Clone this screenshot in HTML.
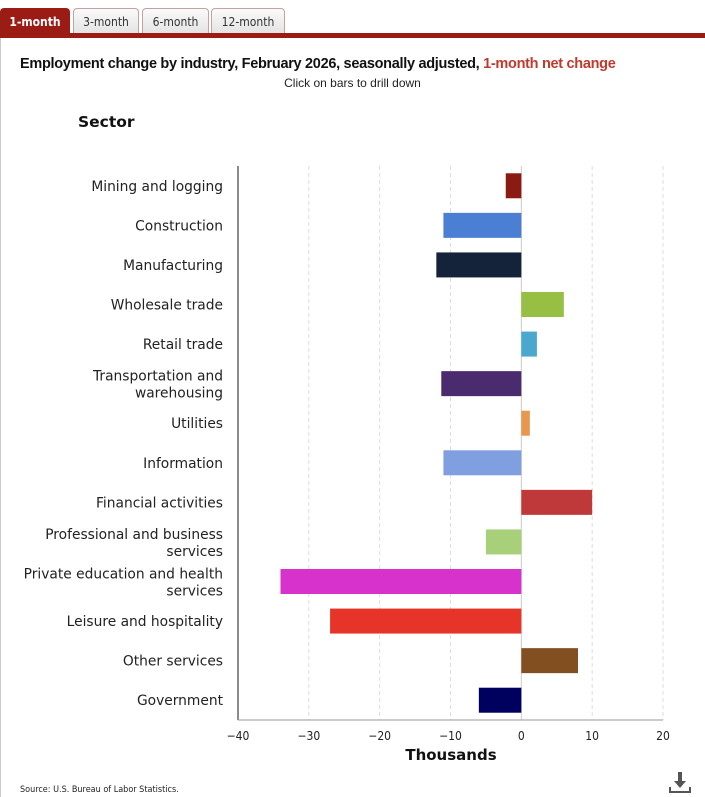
<!DOCTYPE html>
<html><head><meta charset="utf-8"><style>
body{margin:0;width:705px;height:797px;background:#fff;font-family:"Liberation Sans",sans-serif;position:relative;overflow:hidden}
.tab{position:absolute;top:8px;height:27px;border:1px solid #c9a0a0;border-bottom:none;border-radius:4px 4px 0 0;background:linear-gradient(#fafafa,#e2e2e2);font-family:"DejaVu Sans Condensed","Liberation Sans Narrow",sans-serif;font-size:12px;color:#333;text-align:center;line-height:26px;box-sizing:border-box}
.tab.active{background:#9b1c15;color:#fff;font-weight:bold;border-color:#9b1c15}
</style></head><body>
<div class="tab active" style="left:0;width:70px">1-month</div>
<div class="tab" style="left:73px;width:66px">3-month</div>
<div class="tab" style="left:142px;width:67px">6-month</div>
<div class="tab" style="left:211px;width:74px">12-month</div>
<div style="position:absolute;left:0;top:33px;width:705px;height:5px;background:#9b1c15"></div>
<div style="position:absolute;left:0;top:38px;width:1px;height:759px;background:#ccc"></div>
<div style="position:absolute;left:20px;top:56px;font-size:14.5px;font-weight:bold;color:#111;letter-spacing:-0.3px">Employment change by industry, February 2026, seasonally adjusted, <span style="color:#c0392b">1-month net change</span></div>
<div style="position:absolute;left:0;width:705px;top:76px;text-align:center;font-size:12px;color:#222">Click on bars to drill down</div>
<div style="position:absolute;left:78px;top:113px;font-size:15.5px;font-weight:bold;color:#111;font-family:'DejaVu Sans',sans-serif">Sector</div>
<svg id="chart" width="705" height="797" style="position:absolute;left:0;top:0"></svg>
<div style="position:absolute;left:20px;top:785px;font-size:9px;color:#222;font-family:'DejaVu Sans Condensed',sans-serif">Source: U.S. Bureau of Labor Statistics.</div>
<svg width="24" height="24" style="position:absolute;left:668px;top:770px"><path d="M10 2h4v9h4l-6 7-6-7h4z" fill="#555"/><path d="M2 17v5h20v-5" stroke="#555" stroke-width="2" fill="none"/></svg>
<script>
const categories=["Mining and logging","Construction","Manufacturing","Wholesale trade","Retail trade","Transportation and|warehousing","Utilities","Information","Financial activities","Professional and business|services","Private education and health|services","Leisure and hospitality","Other services","Government"];
const values=[-2.2,-11,-12,6,2.2,-11.3,1.2,-11,10,-5,-34,-27,8,-6];
const colors=["#8b1a12","#4a7fd4","#14233a","#96bf44","#4aa8cf","#4a2c6e","#e8974f","#7f9fe0","#c0393a","#a8cf7a","#d733cc","#e63528","#825020","#00005e"];
const ticks=[-40,-30,-20,-10,0,10,20];
const NS="http://www.w3.org/2000/svg",svg=document.getElementById("chart");
const x0=238,x1=663,xmin=-40,xmax=20,pTop=166,pBot=720;
const xs=v=>x0+(v-xmin)/(xmax-xmin)*(x1-x0);
const band=(pBot-pTop)/categories.length;
const ys=i=>pTop+band*(i+0.5);
function mk(t,a){const e=document.createElementNS(NS,t);for(const k in a)e.setAttribute(k,a[k]);svg.appendChild(e);return e;}
ticks.forEach(t=>{
 if(t!==xmin&&t!==0){const g=mk("line",{x1:xs(t),x2:xs(t),y1:pTop,y2:pBot,stroke:"#ddd","stroke-dasharray":"4,3"});
 
 }
 const l=mk("text",{x:xs(t),y:pBot+20,"text-anchor":"middle","font-size":"12","fill":"#222","font-family":"DejaVu Sans Condensed,sans-serif"});
 l.textContent=(t<0?"\u2212"+(-t):t);
 
 
});
const z=mk("line",{x1:xs(0),x2:xs(0),y1:pTop,y2:pBot,stroke:"#ccc"});


categories.forEach((c,i)=>{
 const v=values[i],y=ys(i);
 const r=mk("rect",{x:Math.min(xs(0),xs(v)),y:y-12.5,width:Math.abs(xs(v)-xs(0)),height:25,fill:colors[i]});
 
 
 const parts=c.split('|');
 const t=mk("text",{x:223,y:parts.length>1?y-3:y+5,"text-anchor":"end","font-size":"13.8","fill":"#222","font-family":"DejaVu Sans,sans-serif"});
 
 
 parts.forEach((p,k)=>{const s=document.createElementNS(NS,"tspan");s.setAttribute("x",223);if(k)s.setAttribute("dy",17);s.textContent=p;t.appendChild(s);});
});
const ya=mk("line",{x1:x0,x2:x0,y1:pTop,y2:pBot,stroke:"#666","stroke-width":1.5});


const xa=mk("line",{x1:x0,x2:x1,y1:pBot,y2:pBot,stroke:"#999"});


const xt=mk("text",{x:451,y:760,"text-anchor":"middle","font-size":"15","font-weight":"bold","fill":"#111","font-family":"DejaVu Sans,sans-serif"});
xt.textContent="Thousands";


</script>
</body></html>
